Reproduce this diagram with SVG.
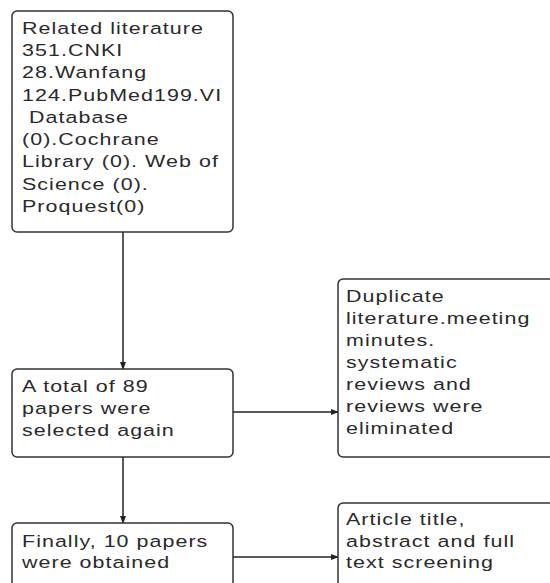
<svg xmlns="http://www.w3.org/2000/svg" width="550" height="583" viewBox="0 0 550 583">
<defs>
<style>
.box{fill:#fff;stroke:#333;stroke-width:1.5}
.t{font-family:"Liberation Sans",Arial,sans-serif;font-size:16.5px;fill:#2a2a2a;letter-spacing:0.8px;white-space:pre}
.c{stroke:#222;stroke-width:1.5;fill:none}
</style>
<marker id="ah" markerWidth="8" markerHeight="6" refX="7" refY="3" orient="auto" markerUnits="userSpaceOnUse">
<path d="M0,0 L8,3 L0,6 Z" fill="#222"/>
</marker>
</defs>
<rect width="550" height="583" fill="#fff"/>
<g id="connectors">
<line class="c" x1="123" y1="232" x2="123" y2="369" marker-end="url(#ah)"/>
<line class="c" x1="233" y1="412" x2="338" y2="412" marker-end="url(#ah)"/>
<line class="c" x1="123" y1="457" x2="123" y2="523" marker-end="url(#ah)"/>
<line class="c" x1="233" y1="557" x2="338" y2="557" marker-end="url(#ah)"/>
</g>
<g id="n1">
<rect class="box" x="12" y="11" width="221" height="221" rx="5"/>
<g transform="translate(22,0) scale(1.3,1)">
<text class="t" x="0" y="34">Related literature</text>
<text class="t" x="0" y="56">351.CNKI</text>
<text class="t" x="0" y="78">28.Wanfang</text>
<text class="t" x="0" y="101">124.PubMed199.VI</text>
<text class="t" x="0" y="123"> Database</text>
<text class="t" x="0" y="145">(0).Cochrane</text>
<text class="t" x="0" y="167">Library (0). Web of</text>
<text class="t" x="0" y="190">Science (0).</text>
<text class="t" x="0" y="212">Proquest(0)</text>
</g>
</g>
<g id="n2">
<rect class="box" x="12" y="369" width="221" height="88" rx="5"/>
<g transform="translate(22,0) scale(1.3,1)">
<text class="t" x="0" y="392">A total of 89</text>
<text class="t" x="0" y="414">papers were</text>
<text class="t" x="0" y="436">selected again</text>
</g>
</g>
<g id="n3">
<rect class="box" x="338" y="279" width="230" height="178" rx="5"/>
<g transform="translate(346,0) scale(1.3,1)">
<text class="t" x="0" y="302">Duplicate</text>
<text class="t" x="0" y="324">literature.meeting</text>
<text class="t" x="0" y="346">minutes.</text>
<text class="t" x="0" y="368">systematic</text>
<text class="t" x="0" y="390">reviews and</text>
<text class="t" x="0" y="412">reviews were</text>
<text class="t" x="0" y="434">eliminated</text>
</g>
</g>
<g id="n4">
<rect class="box" x="12" y="523" width="221" height="80" rx="5"/>
<g transform="translate(22,0) scale(1.3,1)">
<text class="t" x="0" y="547">Finally, 10 papers</text>
<text class="t" x="0" y="568">were obtained</text>
</g>
</g>
<g id="n5">
<rect class="box" x="338" y="503" width="230" height="100" rx="5"/>
<g transform="translate(346,0) scale(1.3,1)">
<text class="t" x="0" y="525">Article title,</text>
<text class="t" x="0" y="547">abstract and full</text>
<text class="t" x="0" y="568">text screening</text>
</g>
</g>
</svg>
